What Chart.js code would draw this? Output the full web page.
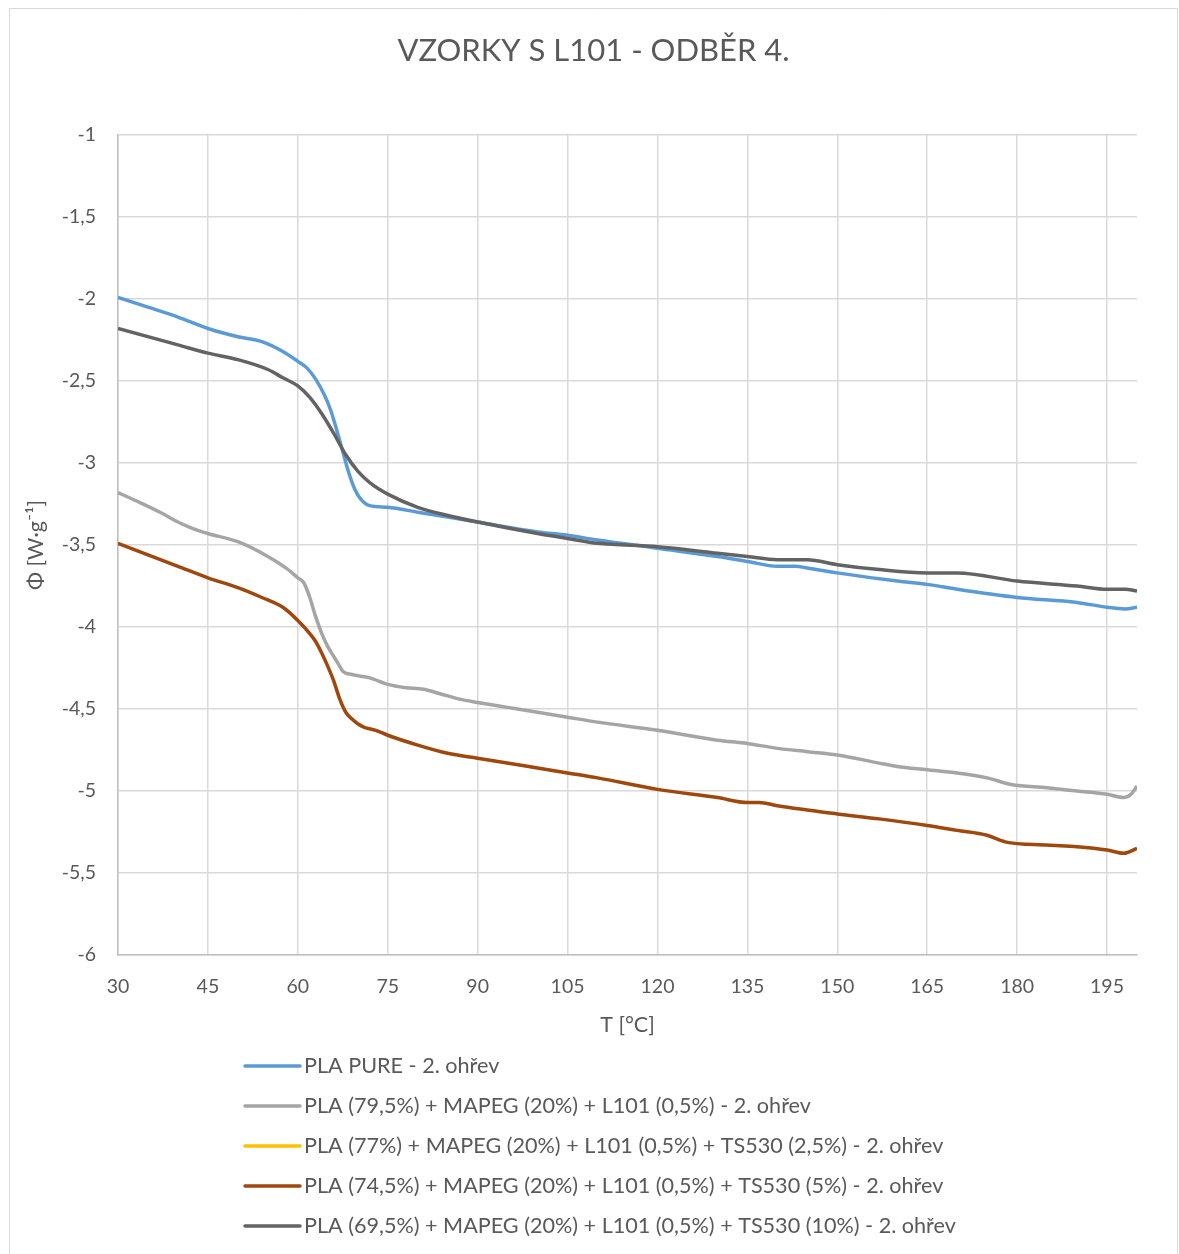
<!DOCTYPE html>
<html>
<head>
<meta charset="utf-8">
<title>VZORKY S L101 - ODBĚR 4.</title>
<script src="https://cdn.jsdelivr.net/npm/chart.js@4.4.1/dist/chart.umd.min.js"></script>
<style>
  html, body { margin: 0; padding: 0; background: #ffffff; }
  canvas { display: block; }
</style>
</head>
<body>
<canvas id="dsc" width="1179" height="1254"></canvas>
<script>
// DSC curves, second heating — temperature [°C] and heat flow [W/g]
const chartTitle = 'VZORKY S L101 - ODBĚR 4.';
const xTitle = 'T [°C]';
const yTitle = 'Φ [W·g⁻¹]';

const seriesNames = [
  'PLA PURE - 2. ohřev',
  'PLA (79,5%) + MAPEG (20%) + L101 (0,5%) - 2. ohřev',
  'PLA (77%) + MAPEG (20%) + L101 (0,5%) + TS530 (2,5%) - 2. ohřev',
  'PLA (74,5%) + MAPEG (20%) + L101 (0,5%) + TS530 (5%) - 2. ohřev',
  'PLA (69,5%) + MAPEG (20%) + L101 (0,5%) + TS530 (10%) - 2. ohřev'
];
const seriesColors = ['#5B9BD5', '#A5A5A5', '#FFC000', '#9E480E', '#636363'];

// PLA PURE
const tPure = [30, 35, 40, 45, 50, 54, 57.5, 60, 61.5, 63, 64.5, 65.5, 66.5, 67.5, 68.5, 69.5, 70.5, 72, 75, 80, 90, 100, 105, 110, 120, 130, 135, 140, 143, 145, 150, 160, 165, 170, 180, 190, 195, 198, 200];
const phiPure = [-1.99, -2.05, -2.11, -2.18, -2.23, -2.26, -2.32, -2.38, -2.42, -2.49, -2.59, -2.68, -2.80, -2.93, -3.06, -3.16, -3.22, -3.26, -3.27, -3.30, -3.36, -3.42, -3.44, -3.47, -3.52, -3.57, -3.60, -3.63, -3.63, -3.64, -3.67, -3.72, -3.74, -3.77, -3.82, -3.85, -3.88, -3.89, -3.88];

// PLA 79,5 % + MAPEG + L101
const tMapeg = [30, 33, 37, 40, 42.5, 45, 50, 55, 58, 60, 61, 62, 63, 64, 65, 66, 67, 67.5, 69, 72, 75, 78, 81, 84, 87, 90, 95, 100, 105, 110, 120, 130, 135, 140, 145, 150, 157, 160, 165, 170, 175, 179, 185, 190, 195, 197.8, 199, 200];
const phiMapeg = [-3.18, -3.23, -3.30, -3.36, -3.40, -3.43, -3.48, -3.57, -3.64, -3.70, -3.73, -3.82, -3.94, -4.04, -4.12, -4.18, -4.24, -4.27, -4.29, -4.31, -4.35, -4.37, -4.38, -4.41, -4.44, -4.46, -4.49, -4.52, -4.55, -4.58, -4.63, -4.69, -4.71, -4.74, -4.76, -4.78, -4.83, -4.85, -4.87, -4.89, -4.92, -4.96, -4.98, -5.00, -5.02, -5.04, -5.02, -4.97];

// TS530 2,5 % — no curve plotted
const tTs25 = [];
const phiTs25 = [];

// TS530 5 %
const tTs5 = [30, 35, 40, 45, 50, 54, 57.5, 60, 62, 63, 64, 65, 66, 67, 68, 69, 70, 71, 73, 75, 80, 85, 90, 100, 105, 110, 120, 130, 135, 137, 140, 150, 157, 165, 170, 175, 178, 185, 190, 195, 197.8, 200];
const phiTs5 = [-3.49, -3.56, -3.63, -3.70, -3.76, -3.82, -3.88, -3.96, -4.04, -4.09, -4.16, -4.24, -4.33, -4.44, -4.52, -4.56, -4.59, -4.61, -4.63, -4.66, -4.72, -4.77, -4.80, -4.86, -4.89, -4.92, -4.99, -5.04, -5.07, -5.07, -5.09, -5.14, -5.17, -5.21, -5.24, -5.27, -5.31, -5.33, -5.34, -5.36, -5.38, -5.35];

// TS530 10 %
const tTs10 = [30, 40, 45, 50, 55, 57.5, 60, 62, 64, 66, 68, 70, 72, 75, 80, 85, 90, 100, 105, 110, 120, 130, 135, 140, 145, 150, 157, 165, 170, 180, 190, 195, 198, 200];
const phiTs10 = [-2.18, -2.28, -2.33, -2.37, -2.43, -2.48, -2.53, -2.60, -2.70, -2.82, -2.95, -3.05, -3.12, -3.19, -3.27, -3.32, -3.36, -3.43, -3.46, -3.49, -3.51, -3.55, -3.57, -3.59, -3.59, -3.62, -3.65, -3.67, -3.67, -3.72, -3.75, -3.77, -3.77, -3.78];

const xTicks = { min: 30, max: 200, step: 15 };
const yTicks = { min: -6, max: -1, step: 0.5 };

const allT = [tPure, tMapeg, tTs25, tTs5, tTs10];
const allPhi = [phiPure, phiMapeg, phiTs25, phiTs5, phiTs10];

const FONT = 'Lato, "Open Sans", sans-serif';
const TEXT = '#595959';

const datasets = seriesNames.map((name, i) => ({
  label: name,
  data: allT[i].map((t, k) => ({ x: t, y: allPhi[i][k] })),
  borderColor: seriesColors[i],
  backgroundColor: seriesColors[i],
  borderWidth: 3.5,
  pointRadius: 0,
  fill: false,
  cubicInterpolationMode: 'monotone',
  order: seriesNames.length - i
}));

const commaNum = v => String(Math.round(v * 100) / 100).replace('.', ',');

// frame, white background and the title centred on the frame
const framePlugin = {
  id: 'frame',
  beforeDraw(chart) {
    const c = chart.ctx;
    c.save();
    c.fillStyle = '#ffffff';
    c.fillRect(0, 0, chart.width, chart.height);
    c.strokeStyle = '#d9d9d9';
    c.lineWidth = 1;
    c.beginPath();
    c.moveTo(9.5, chart.height);
    c.lineTo(9.5, 8.5);
    c.lineTo(chart.width - 1.5, 8.5);
    c.lineTo(chart.width - 1.5, chart.height);
    c.stroke();
    c.fillStyle = TEXT;
    c.font = '31px ' + FONT;
    c.textAlign = 'center';
    c.textBaseline = 'middle';
    c.fillText(chartTitle, (9.5 + chart.width - 1.5) / 2, 51);
    c.restore();
  }
};

// single-column legend under the x axis
const columnLegend = {
  id: 'columnLegend',
  afterDraw(chart) {
    const c = chart.ctx;
    const x0 = 245, x1 = 300, tx = 304, y0 = 1066, dy = 40;
    c.save();
    c.font = '21.6px ' + FONT;
    c.textBaseline = 'middle';
    c.textAlign = 'left';
    chart.data.datasets.forEach((ds, i) => {
      const y = y0 + i * dy;
      c.strokeStyle = ds.borderColor;
      c.lineWidth = 3.5;
      c.lineCap = 'round';
      c.beginPath();
      c.moveTo(x0, y);
      c.lineTo(x1, y);
      c.stroke();
      c.fillStyle = TEXT;
      c.fillText(ds.label, tx, y);
    });
    c.restore();
  }
};

new Chart(document.getElementById('dsc'), {
  type: 'line',
  data: { datasets },
  plugins: [framePlugin, columnLegend],
  options: {
    responsive: false,
    animation: false,
    devicePixelRatio: 1,
    layout: { padding: { left: 10, right: 42, top: 135, bottom: 200 } },
    plugins: {
      legend: { display: false },
      tooltip: { enabled: false },
      title: { display: false }
    },
    scales: {
      x: {
        type: 'linear',
        min: xTicks.min,
        max: xTicks.max,
        afterFit(scale) { scale.height = 99; },
        ticks: {
          stepSize: xTicks.step,
          includeBounds: false,
          color: TEXT,
          padding: 20,
          maxRotation: 0,
          font: { family: FONT, size: 19.5 },
          callback: v => commaNum(v)
        },
        grid: { color: '#d9d9d9', lineWidth: 1.5, drawTicks: false },
        border: { color: '#bfbfbf', width: 1.5 },
        title: {
          display: true,
          text: xTitle,
          color: TEXT,
          font: { family: FONT, size: 21.5 },
          padding: { top: 0, bottom: 16 }
        }
      },
      y: {
        type: 'linear',
        min: yTicks.min,
        max: yTicks.max,
        afterFit(scale) { scale.width = 108; },
        ticks: {
          stepSize: yTicks.step,
          color: TEXT,
          padding: 22,
          font: { family: FONT, size: 19.5 },
          callback: v => commaNum(v)
        },
        grid: { color: '#d9d9d9', lineWidth: 1.5, drawTicks: false },
        border: { color: '#bfbfbf', width: 1.5 },
        title: {
          display: true,
          text: yTitle,
          color: TEXT,
          font: { family: FONT, size: 21.5 },
          padding: { top: 13, bottom: 0 }
        }
      }
    }
  }
});
</script>
</body>
</html>
